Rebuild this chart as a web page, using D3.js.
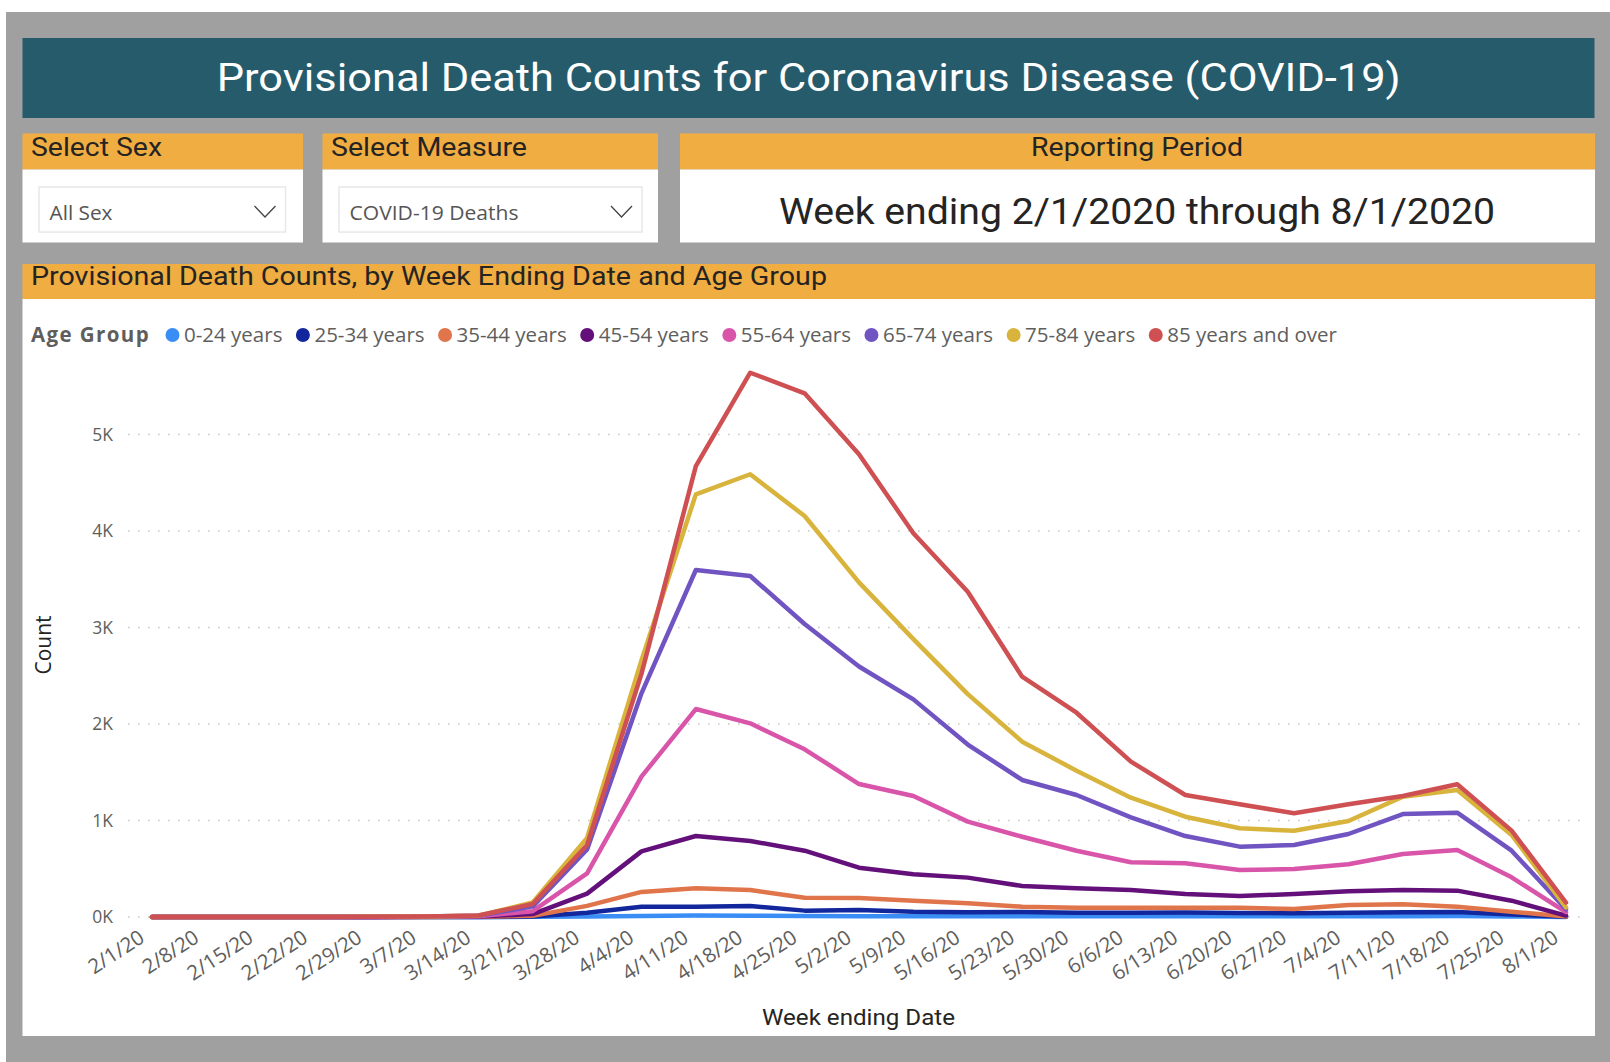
<!DOCTYPE html>
<html><head><meta charset="utf-8">
<script src="https://cdn.jsdelivr.net/npm/d3@7/dist/d3.min.js"></script>
<style>html,body{margin:0;padding:0;background:#fff;}svg{display:block;}</style>
</head><body>
<svg id="c" width="1610" height="1062"></svg>
<script>
const weeks = ["2/1/20","2/8/20","2/15/20","2/22/20","2/29/20","3/7/20","3/14/20","3/21/20","3/28/20","4/4/20","4/11/20","4/18/20","4/25/20","5/2/20","5/9/20","5/16/20","5/23/20","5/30/20","6/6/20","6/13/20","6/20/20","6/27/20","7/4/20","7/11/20","7/18/20","7/25/20","8/1/20"];
const ageGroups = ["0-24 years","25-34 years","35-44 years","45-54 years","55-64 years","65-74 years","75-84 years","85 years and over"];
const ageColors = ["#3A8DF5","#13279C","#E0744A","#64107A","#D955AA","#7054C2","#D8B43C","#CE5052"];
const age0_24  = [0,0,0,0,0,0,0,2,5,10,15,14,10,9,8,8,8,7,8,7,7,7,8,9,10,6,1];
const age25_34 = [0,0,0,0,0,0,1,5,45,107,105,114,66,73,55,50,52,45,45,47,42,40,45,50,52,27,3];
const age35_44 = [0,0,0,0,0,1,3,12,115,260,297,280,200,197,169,142,107,97,97,97,95,83,124,131,107,55,5];
const age45_54 = [0,0,0,0,1,2,5,30,242,680,839,788,687,511,442,408,321,297,280,238,217,238,266,280,273,169,15];
const age55_64 = [0,0,0,0,1,3,8,60,453,1455,2155,2007,1738,1378,1254,988,832,687,567,556,487,497,546,653,694,411,50];
const age65_74 = [0,0,0,0,1,4,12,110,700,2318,3596,3534,3036,2596,2255,1787,1420,1264,1033,839,729,746,860,1067,1081,687,80];
const age75_84 = [0,0,0,0,2,5,14,150,820,2660,4380,4588,4155,3468,2880,2310,1817,1516,1236,1039,919,894,995,1247,1316,850,100];
const age85plus= [0,0,0,0,2,6,15,135,746,2520,4673,5640,5427,4795,3976,3371,2490,2117,1610,1264,1168,1075,1168,1254,1375,895,150];
const yTicks = [0,1000,2000,3000,4000,5000];
const yTickLabels = ["0K","1K","2K","3K","4K","5K"];

const seriesValues = [age0_24,age25_34,age35_44,age45_54,age55_64,age65_74,age75_84,age85plus];
const series = ageGroups.map((g,i)=>({name:g,color:ageColors[i],values:seriesValues[i]}));

const svg = d3.select("#c");
const DIN = "Roboto, 'DejaVu Sans Condensed', sans-serif";
const SEG = "'Open Sans', 'Noto Sans', sans-serif";

// backgrounds
svg.append("rect").attr("x",0).attr("y",0).attr("width",1610).attr("height",1062).attr("fill","#fff");
svg.append("rect").attr("x",6).attr("y",12).attr("width",1604).attr("height",1050).attr("fill","#a0a0a0");

// title banner
svg.append("rect").attr("x",22.5).attr("y",38).attr("width",1572).attr("height",80).attr("fill","#255B6B");
function fitText(sel, w){ sel.attr("textLength",w).attr("lengthAdjust","spacingAndGlyphs"); return sel; }
fitText(svg.append("text").attr("x",216.7).attr("y",90.5).attr("fill","#fff")
  .style("font-family",DIN).style("font-size","38px")
  .text("Provisional Death Counts for Coronavirus Disease (COVID-19)"),1184);

// panels
const orange = "#F0AD41";
function panel(x0,x1,y0,yh,y1){
  svg.append("rect").attr("x",x0).attr("y",y0).attr("width",x1-x0).attr("height",yh-y0).attr("fill",orange);
  svg.append("rect").attr("x",x0).attr("y",yh).attr("width",x1-x0).attr("height",y1-yh).attr("fill","#fff");
}
panel(22.5,303,133.5,169.5,242.5);
panel(322.5,658,133.5,169.5,242.5);
panel(680,1595,133.5,169.5,242.5);
panel(22.5,1595,264,299,1036);

fitText(svg.append("text").attr("x",31).attr("y",156).attr("fill","#252423")
  .style("font-family",DIN).style("font-size","26px").text("Select Sex"),131);
fitText(svg.append("text").attr("x",331).attr("y",156).attr("fill","#252423")
  .style("font-family",DIN).style("font-size","26px").text("Select Measure"),196);
fitText(svg.append("text").attr("x",1031).attr("y",156).attr("fill","#252423")
  .style("font-family",DIN).style("font-size","26px").text("Reporting Period"),212);
fitText(svg.append("text").attr("x",779).attr("y",224).attr("fill","#252423")
  .style("font-family",DIN).style("font-size","37px").text("Week ending 2/1/2020 through 8/1/2020"),716);
fitText(svg.append("text").attr("x",31).attr("y",285).attr("fill","#252423")
  .style("font-family",DIN).style("font-size","26px").text("Provisional Death Counts, by Week Ending Date and Age Group"),796);

// dropdowns
function dropdown(x0,x1,label,labW){
  svg.append("rect").attr("x",x0).attr("y",187).attr("width",x1-x0).attr("height",45)
    .attr("fill","#fff").attr("stroke","#e8e8e8").attr("stroke-width",1.5);
  fitText(svg.append("text").attr("x",x0+10.5).attr("y",220).attr("fill","#555")
    .style("font-family",SEG).style("font-size","20px").text(label),labW);
  const cx = x1-20.5;
  svg.append("polyline").attr("points",`${cx-10.5},${206} ${cx},${217} ${cx+10.5},${206}`)
    .attr("fill","none").attr("stroke","#444").attr("stroke-width",1.3);
}
dropdown(39,285.5,"All Sex",63);
dropdown(339,642,"COVID-19 Deaths",169);

// legend
const legY = 342;
svg.append("text").attr("x",31).attr("y",legY).attr("fill","#605E5C")
  .style("font-family",SEG).style("font-size","20.5px").style("font-weight","bold").style("letter-spacing","1.4px")
  .text("Age Group");
let lx = 172.5;
series.forEach(s=>{
  svg.append("circle").attr("cx",lx).attr("cy",legY-7).attr("r",7).attr("fill",s.color);
  const t = svg.append("text").attr("x",lx+11.5).attr("y",legY).attr("fill","#605E5C")
    .style("font-family",SEG).style("font-size","20.5px").text(s.name);
  const w = t.node().getComputedTextLength();
  lx = lx + 11.5 + w + 20.5;
});

// scales
const x = d3.scalePoint().domain(weeks).range([152,1566]);
const y = d3.scaleLinear().domain([0,5000]).range([917,434.5]);

// grid + y labels
const yAxis = d3.axisLeft(y).tickValues(yTicks).tickFormat((d,i)=>yTickLabels[i]).tickSize(0).tickPadding(0);
const gy = svg.append("g").attr("transform","translate(113,0)").call(yAxis);
gy.select(".domain").remove();
gy.selectAll("text").attr("fill","#605E5C").style("font-family",SEG).style("font-size","17.5px").attr("x",0);
svg.append("g").selectAll("line").data(yTicks).join("line")
  .attr("x1",128).attr("x2",1582).attr("y1",d=>y(d)).attr("y2",d=>y(d))
  .attr("stroke","#c8c8c8").attr("stroke-width",1.6).attr("stroke-dasharray","1.6 8.4");

// x axis labels
const xAxis = d3.axisBottom(x).tickSize(0).tickPadding(0);
const gx = svg.append("g").call(xAxis);
gx.select(".domain").remove();
gx.selectAll(".tick").attr("transform",d=>`translate(${x(d)-10},935)`);
gx.selectAll("text").attr("fill","#605E5C").style("font-family",SEG).style("font-size","20.5px")
  .attr("text-anchor","end").attr("y",0).attr("dy","0.35em").attr("transform","rotate(-33)");

// axis titles
svg.append("text").attr("transform","translate(51,645) rotate(-90)").attr("text-anchor","middle")
  .attr("fill","#252423").style("font-family",SEG).style("font-size","21px").text("Count");
fitText(svg.append("text").attr("x",762).attr("y",1025)
  .attr("fill","#252423").style("font-family",DIN).style("font-size","22px").text("Week ending Date"),193);

// lines
const line = d3.line().x((d,i)=>x(weeks[i])).y(d=>y(d));
svg.append("g").selectAll("path").data(series).join("path")
  .attr("d",s=>line(s.values)).attr("fill","none").attr("stroke",s=>s.color)
  .attr("stroke-width",4.5).attr("stroke-linejoin","round").attr("stroke-linecap","round");
</script>
</body></html>
